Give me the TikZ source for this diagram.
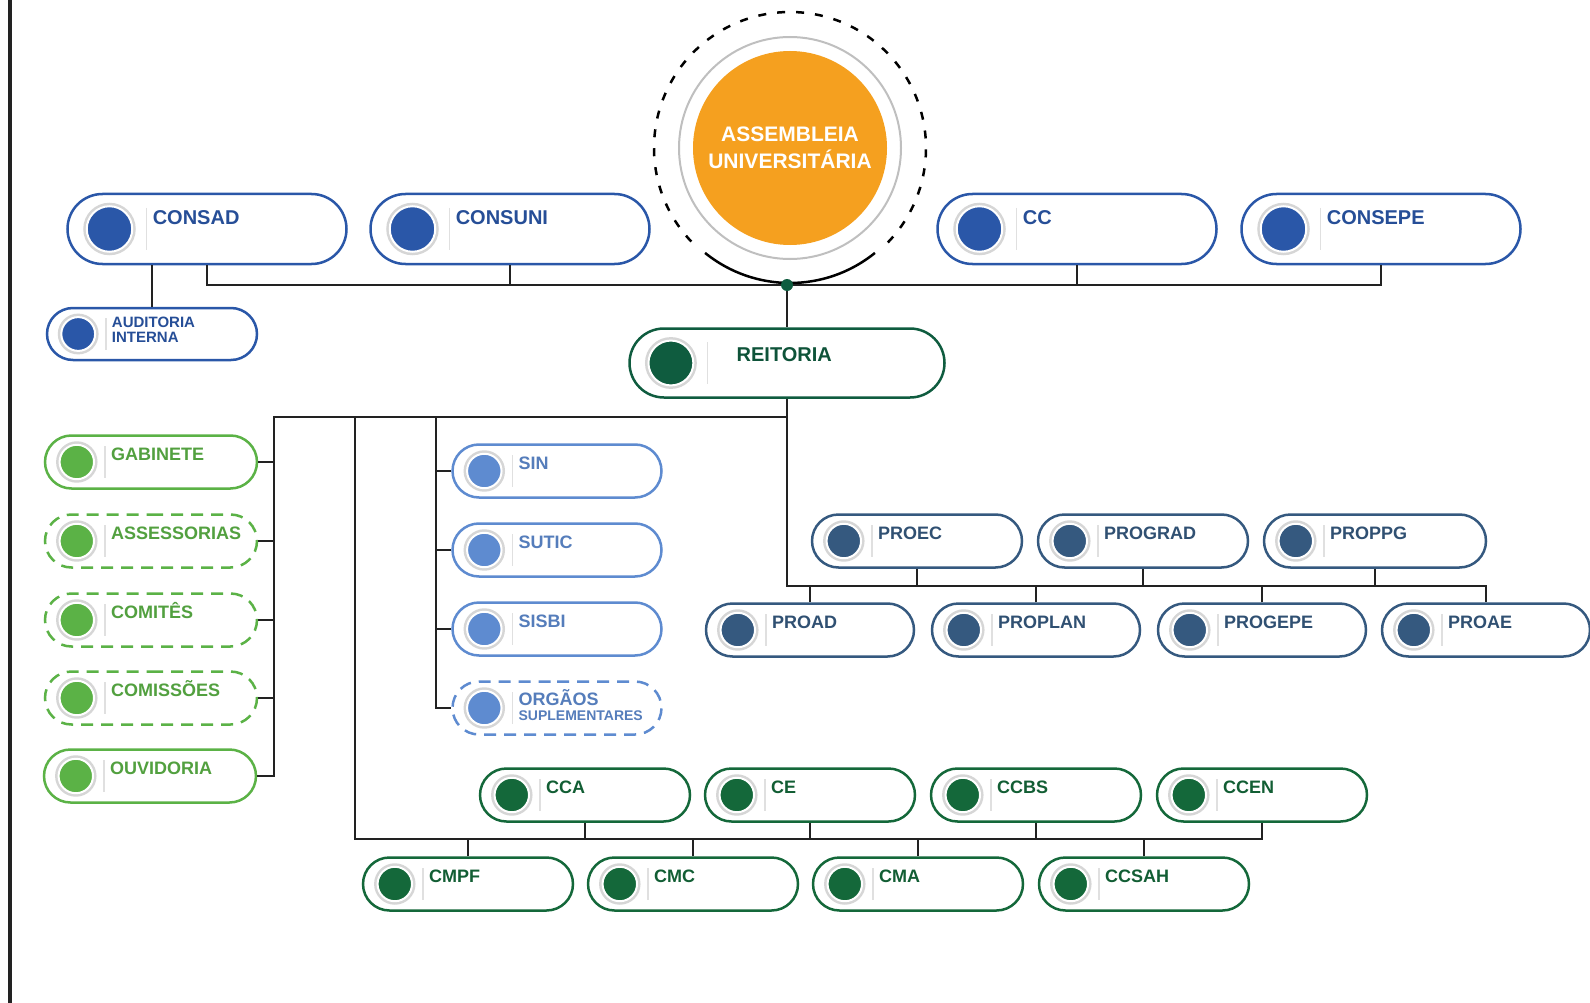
\documentclass[tikz,border=0pt]{standalone}
\usepackage{fontspec}
\setmainfont{Liberation Sans}
\usetikzlibrary{
    shapes.misc,
    positioning,
    calc
}
\definecolor{council}{HTML}{2A57A8}
\definecolor{rectory}{HTML}{0F5C3F}
\definecolor{cabinet}{HTML}{5BB246}
\definecolor{system}{HTML}{5E8BD0}
\definecolor{provost}{HTML}{35597F}
\definecolor{campus}{HTML}{14683A}
\definecolor{assembly}{HTML}{F5A01F}
\definecolor{wirecol}{HTML}{222222}
\tikzset{
    % Unit settings (changed per pic)
    unit height/.store in=\unitheight, unit height=53,
    unit size/.store in=\unitsize, unit size=18,
    unit shift/.store in=\unitshift, unit shift=0,
    unit raise/.store in=\unitraise, unit raise=-2,
    unit border/.style={},
    dashed unit/.style={unit border/.style={dash pattern=on 12pt off 8pt}},
    % Pill outline
    pill/.style={
        rounded rectangle,
        draw=#1,
        fill=white,
        line width=2.5pt,
        inner sep=0pt,
        unit border
    },
    % Round marker with grey halo
    dot/.style={
        circle,
        fill=#1,
        draw=white,
        line width=2pt,
        inner sep=0pt,
        preaction={draw=black!16, line width=7pt}
    },
    % Unit label
    unit text/.style={
        font=\bfseries\fontsize{\unitsize}{\unitsize}\selectfont,
        text=#1!90!black,
        anchor=base west,
        align=left,
        inner sep=0pt
    },
    % Connector
    wire/.style={
        draw=wirecol,
        line width=2.5pt
    },
    % Whole unit: colour, width, text
    pics/unit/.style n args={3}{code={
        \node[pill=#1, minimum width=#2pt, minimum height={\unitheight*1pt}] (-box) at (0,0) {};
        \node[dot=#1, minimum size={0.65*\unitheight*1pt}] (-dot) at ({-#2/2+0.6*\unitheight},0) {};
        \draw[black!12, line width=1.5pt] ({-#2/2+1.13*\unitheight},{-0.3*\unitheight}) -- ++(0,{0.6*\unitheight});
        \node[unit text=#1] (-text) at ({-#2/2+1.13*\unitheight+6+\unitshift},\unitraise) {#3};
    }}
}

\begin{document}
\begin{tikzpicture}[x=1pt, y=-1pt]
        \useasboundingbox (0,0) rectangle (1590,1003);

        % Frame line on the left
        \draw[line width=4pt, wirecol] (10,0) -- (10,1003);

        % Assembly
        \node[circle, draw=black!25, line width=2pt, fill=white, minimum size=222pt] (ring) at (790,148) {};
        \node[circle, fill=assembly, minimum size=194pt, inner sep=0pt, align=center, text=white,
              font=\bfseries\fontsize{21}{27}\selectfont] (assembleia) at (ring) {ASSEMBLEIA\\UNIVERSITÁRIA};
        \draw[line width=2.5pt, dash pattern=on 8pt off 11pt] ([shift={(-44:136pt)}]assembleia.center) arc[start angle=-44, end angle=224, radius=136pt];
        \draw[line width=2.5pt] ([shift={(231:135pt)}]assembleia.center) arc[start angle=231, end angle=309, radius=135pt];

        % Councils
        \foreach \name/\x/\txt in {consad/207/CONSAD, consuni/510/CONSUNI, cc/1077/CC, consepe/1381/CONSEPE} {
            \pic[unit height=70, unit size=20, unit raise=-4] (\name) at (\x,229) {unit={council}{279}{\txt}};
        }
        \pic[unit height=52, unit size=15, unit raise=8] (auditoria) at (152,334) {unit={council}{210}{AUDITORIA\\INTERNA}};

        % Rectory
        \pic[unit height=69, unit size=20, unit shift=23] (reitoria) at (787,363) {unit={rectory}{315}{REITORIA}};

        % Cabinet column
        \pic (gabinete) at (151,462) {unit={cabinet}{212}{GABINETE}};
        \pic[dashed unit] (assessorias) at (151,541) {unit={cabinet}{212}{ASSESSORIAS}};
        \pic[dashed unit] (comites) at (151,620) {unit={cabinet}{212}{COMITÊS}};
        \pic[dashed unit] (comissoes) at (151,698) {unit={cabinet}{212}{COMISSÕES}};
        \pic (ouvidoria) at (150,776) {unit={cabinet}{212}{OUVIDORIA}};

        % Systems column
        \foreach \name/\y/\txt in {sin/471/SIN, sutic/550/SUTIC, sisbi/629/SISBI} {
            \pic (\name) at (557,\y) {unit={system}{209}{\txt}};
        }
        \pic[dashed unit, unit raise=12] (orgaos) at (557,708) {unit={system}{209}{ORGÃOS\\[-3pt]{\fontsize{14}{14}\selectfont SUPLEMENTARES}}};

        % Pro-rectories
        \foreach \name/\x/\txt in {proec/917/PROEC, prograd/1143/PROGRAD} {
            \pic (\name) at (\x,541) {unit={provost}{210}{\txt}};
        }
        \pic (proppg) at (1375,541) {unit={provost}{222}{PROPPG}};
        \foreach \name/\x/\txt in {proad/810/PROAD, proplan/1036/PROPLAN, progepe/1262/PROGEPE, proae/1486/PROAE} {
            \pic (\name) at (\x,630) {unit={provost}{208}{\txt}};
        }

        % Centres
        \foreach \name/\x/\txt in {cca/585/CCA, ce/810/CE, ccbs/1036/CCBS, ccen/1262/CCEN} {
            \pic (\name) at (\x,795) {unit={campus}{210}{\txt}};
        }
        \foreach \name/\x/\txt in {cmpf/468/CMPF, cmc/693/CMC, cma/918/CMA, ccsah/1144/CCSAH} {
            \pic (\name) at (\x,884) {unit={campus}{210}{\txt}};
        }

        % Junctions
        \coordinate (hub) at (787,285);
        \coordinate (split) at (787,417);
        \coordinate (probus) at (787,586);
        \coordinate (leftrail) at (274,417);
        \coordinate (ccrail) at (355,417);
        \coordinate (sinrail) at (436,417);
        \coordinate (ccbus) at (355,839);

        % Upper connections
        \draw[wire] (consad-box.south) |- (hub) -| (consepe-box.south);
        \foreach \name in {consuni, cc} {
            \draw[wire] (\name-box.south) -- (\name-box.south |- hub);
        }
        \draw[wire] (auditoria-box.north) -- (auditoria-box.north |- consad-box.south);
        \draw[wire] (hub) -- (reitoria-box.north);
        \node[circle, fill=rectory, minimum size=12pt, inner sep=0pt] (hubdot) at (hub) {};

        % Lower connections
        \draw[wire] (reitoria-box.south) -- (probus) -| (proae-box.north);
        \foreach \name in {proec, prograd, proppg} {
            \draw[wire] (\name-box.south) -- (\name-box.south |- probus);
        }
        \foreach \name in {proad, proplan, progepe} {
            \draw[wire] (\name-box.north) -- (\name-box.north |- probus);
        }
        \draw[wire] (split) -- (leftrail) |- (ouvidoria-box.east);
        \foreach \name in {gabinete, assessorias, comites, comissoes} {
            \draw[wire] (\name-box.east) -- (\name-box.east -| leftrail);
        }
        \draw[wire] (sinrail) |- (orgaos-box.west);
        \foreach \name in {sin, sutic, sisbi} {
            \draw[wire] (\name-box.west) -- (\name-box.west -| sinrail);
        }
        \draw[wire] (ccrail) -- (ccbus) -| (ccen-box.south);
        \foreach \name in {cca, ce, ccbs} {
            \draw[wire] (\name-box.south) -- (\name-box.south |- ccbus);
        }
        \foreach \name in {cmpf, cmc, cma, ccsah} {
            \draw[wire] (\name-box.north) -- (\name-box.north |- ccbus);
        }

    \end{tikzpicture}
\end{document}
